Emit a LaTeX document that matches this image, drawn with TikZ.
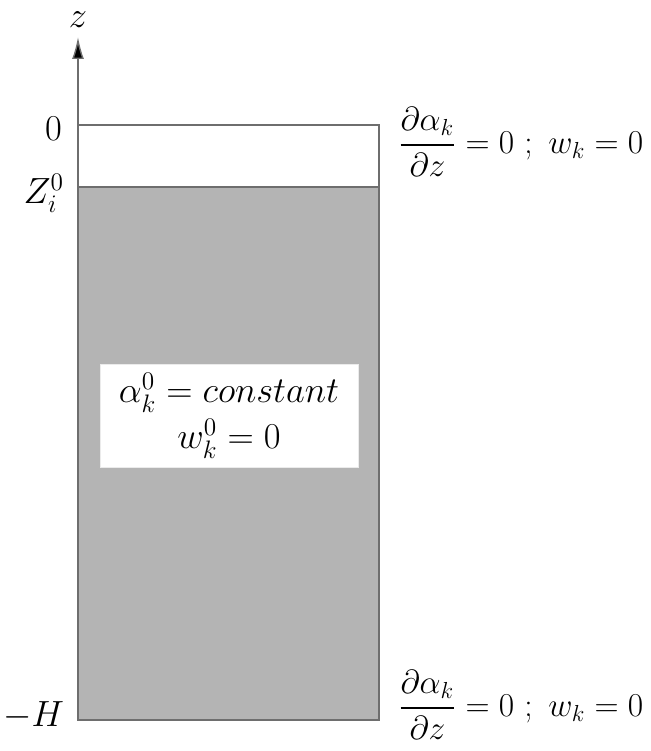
\documentclass[tikz,border=0pt]{standalone}
\usepackage{amsmath,amssymb}
\usepackage{graphicx}
\usepackage{tikz}
\usetikzlibrary{arrows.meta, positioning, calc}
\definecolor{soilgray}{HTML}{B4B4B4}
\definecolor{edgegray}{HTML}{6E6E6E}
\newcommand{\bcond}{\scalebox{1.1}{$\displaystyle\frac{\partial\alpha_k}{\partial z} = 0\ ;\ w_k = 0$}}
\tikzset{
  % Axis and layer outlines
  axisline/.style={-{Latex[length=0.44cm, width=0.24cm, fill=black]}, line width=0.8pt, draw=edgegray},
  layer/.style={draw=edgegray, line width=0.8pt, #1},
  layer/.default={fill=white},
  % Text labels
  lbl/.style={font=\fontsize{20}{24}\selectfont, inner sep=1pt},
  bclabel/.style={anchor=west, inner sep=0pt, font=\fontsize{17.28}{22}\selectfont},
  % State box inside the column
  statebox/.style={
    rectangle, fill=white, draw=black!8, line width=0.5pt,
    minimum width=5.16cm, minimum height=2.06cm,
    font=\fontsize{20}{26}\selectfont, align=center,
  },
}
\begin{document}
\begin{tikzpicture}[x=0.02cm, y=-0.02cm]
  \useasboundingbox (0,0) rectangle (650,751);

  % Column: upper layer and saturated zone
  \coordinate (top) at (78,125);
  \coordinate (front) at (379,187);
  \coordinate (bottom) at (379,720);
  \draw[layer] (top) rectangle (front);
  \draw[layer={fill=soilgray}] (78,187) rectangle (bottom);

  % Vertical axis
  \coordinate (base) at (78,720);
  \node[lbl] (zlab) at (78,20) {$z$};
  \draw[axisline] (base) -- (78,37);

  % Levels
  \node[lbl, anchor=east] (zero) at (64,129) {$0$};
  \node[lbl, anchor=east] (zi) at (66,193) {$Z_i^0$};
  \node[lbl, anchor=east] (mh) at (66,716) {$-H$};

  % Boundary conditions
  \node[bclabel] (bctop) at (398,142) {\bcond};
  \node[bclabel] (bcbot) at (398,705) {\bcond};

  % Initial state
  \node[statebox] (state) at (229,416) {
    $\alpha_k^0 = constant$\\
    $w_k^0 = 0$
  };
\end{tikzpicture}
\end{document}
